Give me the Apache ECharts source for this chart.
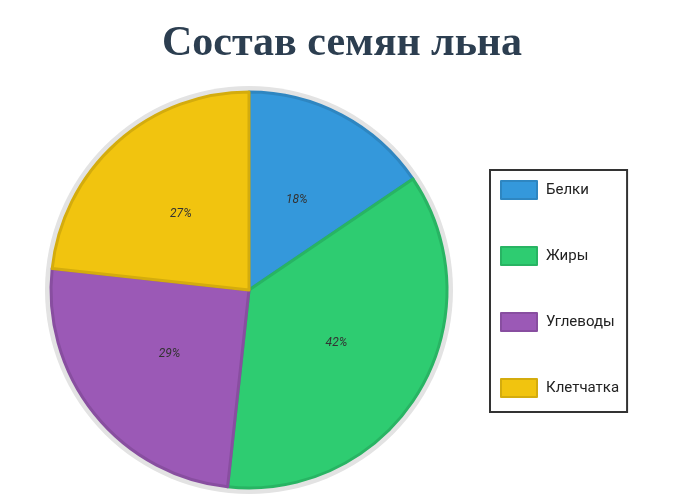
<!DOCTYPE html>
<html><head><meta charset="utf-8">
<script src="https://cdn.jsdelivr.net/npm/echarts@6/dist/echarts.min.js"></script>
<style>html,body{margin:0;padding:0;background:#fff}#c{width:674px;height:501px}</style>
</head><body><div id="c"></div>
<script>
const categories = ["Белки", "Жиры", "Углеводы", "Клетчатка"];
const values = [18, 42, 29, 27];
const colors = ["#3498db", "#2ecc71", "#9b59b6", "#f1c40f"];
const borders = ["#2e86c1", "#28b463", "#884ea0", "#d4ac0d"];
const chart = echarts.init(document.getElementById('c'));
chart.setOption({
  animation: false,
  title: {text: "Состав семян льна", left: 337, top: 18, textAlign: 'center',
    textStyle: {fontFamily: "Liberation Serif", fontWeight: 'bold', fontSize: 42, color: '#2c3e50'}},
  legend: {orient: 'vertical', left: 490, top: 170, itemGap: 46, itemWidth: 36, itemHeight: 18,
    padding: [10, 8, 14, 10], borderColor: '#333', borderWidth: 2, icon: 'rect',
    textStyle: {fontFamily: 'Roboto', fontSize: 15, color: '#222', padding: [0, 0, 0, 4]},
    data: categories},
  series: [
    {type: 'pie', radius: [0, 204], center: [249, 290], silent: true, label: {show: false},
      data: [{value: 1, itemStyle: {color: '#e3e3e3'}}], legendHoverLink: false},
    {type: 'pie', radius: [0, 198], center: [249, 290], startAngle: 90, clockwise: true,
      label: {position: 'inside', formatter: '{c}%', fontStyle: 'italic', fontSize: 12, color: '#333',
        fontFamily: 'Roboto'},
      labelLine: {show: false},
      data: categories.map((n, i) => ({name: n, value: values[i],
        itemStyle: {color: colors[i], borderColor: borders[i], borderWidth: 3}}))}
  ],
  color: colors
});
</script></body></html>
